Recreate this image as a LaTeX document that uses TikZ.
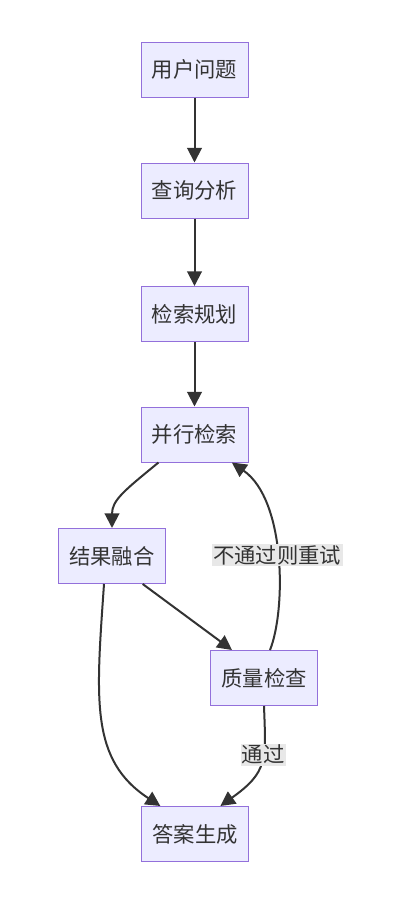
\documentclass[tikz,border=0pt]{standalone}
\usepackage{fontspec}
\setmainfont{Noto Sans CJK SC}
\usepackage{tikz}
\usetikzlibrary{arrows.meta, positioning, calc}
\usepackage{xcolor}

\definecolor{boxfill}{HTML}{ECECFF}
\definecolor{boxline}{HTML}{9370DB}
\definecolor{edgecol}{HTML}{333333}
\definecolor{lblfill}{HTML}{E8E8E8}

\tikzset{
  stepbox/.style={rectangle, fill=boxfill, draw=boxline, line width=0.75pt,
    minimum width=80.25pt, minimum height=41.25pt, inner sep=0pt,
    text=edgecol, font=\fontsize{16pt}{19pt}\selectfont},
  flow/.style={draw=edgecol, line width=1.5pt, -{Triangle[length=11pt,width=11pt]}},
  lbl/.style={fill=lblfill, inner sep=1pt, text=edgecol, font=\fontsize{16pt}{19pt}\selectfont}
}

\begin{document}
\begin{tikzpicture}[x=0.75pt, y=-0.75pt]
      \useasboundingbox (0, 0) rectangle (408, 897);

      \node[stepbox] (ask) at (194.5, 69.5) {用户问题};
      \node[stepbox] (query) at (194.5, 190.5) {查询分析};
      \node[stepbox] (plan) at (194.5, 314) {检索规划};
      \node[stepbox] (par) at (194.5, 434.5) {并行检索};
      \node[stepbox] (fuse) at (112, 556) {结果融合};
      \node[stepbox] (check) at (264, 678) {质量检查};
      \node[stepbox] (answer) at (195, 834) {答案生成};

      \draw[flow] (ask) -- (query);
      \draw[flow] (query) -- (plan);
      \draw[flow] (plan) -- (par);

      \draw[flow] ([xshift=-27pt]par.south) .. controls (125, 490) and (112, 500) .. (fuse.north);
      \draw[flow] ([xshift=23pt]fuse.south) -- ([xshift=-24pt]check.north);
      \draw[flow] ([xshift=-6pt]fuse.south) .. controls (96, 700) and (90, 760) .. ([xshift=-26pt]answer.north);

      \draw[flow] ([xshift=4.5pt]check.north) .. controls (286, 610) and (286, 500) .. ([xshift=28pt]par.south)
        node[lbl, pos=0.5] (retry) {不通过则重试};
      \draw[flow] (check.south) .. controls (266, 760) and (268, 772) .. ([xshift=19pt]answer.north)
        node[lbl, pos=0.4] (pass) {通过};

    \end{tikzpicture}
\end{document}
